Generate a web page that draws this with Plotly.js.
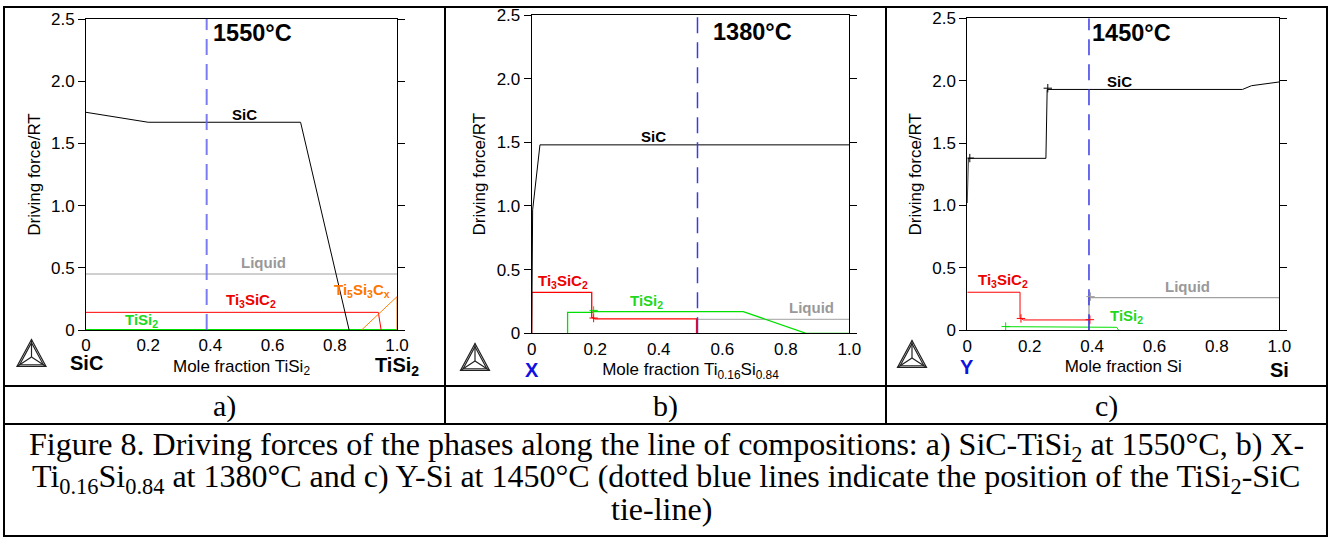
<!DOCTYPE html>
<html>
<head>
<meta charset="utf-8">
<script src="https://cdn.plot.ly/plotly-3.0.1.min.js"></script>
<style>
  html, body { margin: 0; padding: 0; background: #fff; }
  #fig { width: 1334px; height: 537px; }
</style>
</head>
<body>
<div id="fig"></div>
<script>
// ---- axis ticks ----
const xTicks = [0, 0.2, 0.4, 0.6, 0.8, 1.0];
const xTickText = ['0', '0.2', '0.4', '0.6', '0.8', '1.0'];
const yTicks = [0, 0.5, 1.0, 1.5, 2.0, 2.5];
const yTickText = ['0', '0.5', '1.0', '1.5', '2.0', '2.5'];

// ---- a) SiC-TiSi2 at 1550 C ----
const aSicX = [0, 0.2, 0.69, 0.846];
const aSicY = [1.75, 1.67, 1.67, 0];
const aLiqX = [0, 1.0];
const aLiqY = [0.45, 0.45];
const aTi3X = [0, 0.94, 0.949];
const aTi3Y = [0.142, 0.142, 0];
const aTiSi2X = [0, 1.0];
const aTiSi2Y = [0, 0];
const aTi5X = [0.886, 1.0, 1.0];
const aTi5Y = [0, 0.268, 0];
const aTieX = [0.388, 0.388];

// ---- b) X-Ti0.16Si0.84 at 1380 C ----
const bSicX = [0, 0.003, 0.026, 1.0];
const bSicY = [0, 0.97, 1.48, 1.48];
const bTi3X = [0, 0, 0.189, 0.189, 0.2, 0.519, 0.519];
const bTi3Y = [0, 0.322, 0.322, 0.125, 0.113, 0.113, 0];
const bTiSi2X = [0.113, 0.113, 0.19, 0.195, 0.666, 0.864, 1.0];
const bTiSi2Y = [0, 0.165, 0.165, 0.17, 0.17, 0, 0];
const bLiqX = [0.519, 1.0];
const bLiqY = [0.11, 0.11];
const bTieX = [0.522, 0.522];
const bMarkX = [0.195, 0.195];
const bMarkY = [0.12, 0.18];

// ---- c) Y-Si at 1450 C ----
const cSicX = [0, 0.003, 0.252, 0.256, 0.882, 0.911, 1.0];
const cSicY = [1.02, 1.378, 1.378, 1.93, 1.93, 1.96, 1.99];
const cTi3X = [0, 0.169, 0.169, 0.18, 0.39];
const cTi3Y = [0.305, 0.305, 0.1, 0.083, 0.083];
const cTiSi2X = [0.123, 0.479, 0.485];
const cTiSi2Y = [0.029, 0.024, 0];
const cLiqX = [0.39, 0.39, 0.395, 1.0];
const cLiqY = [0, 0.27, 0.262, 0.262];
const cTieX = [0.39, 0.39];
const cSicMarkX = [0.008, 0.258];
const cSicMarkY = [1.38, 1.94];
const cTi3MarkX = [0.172, 0.393];
const cTi3MarkY = [0.095, 0.085];
const cTiSi2MarkX = [0.123];
const cTiSi2MarkY = [0.03];
const cLiqMarkX = [0.395];
const cLiqMarkY = [0.27];

const tieY = [0, 2.5];

// phase labels: [text, x, y, colour]
const aLabels = [
  ['SiC', 0.51, 1.73, '#000000'],
  ['Liquid', 0.57, 0.54, '#999999'],
  ['Ti<sub>3</sub>SiC<sub>2</sub>', 0.53, 0.24, '#ee0000'],
  ['TiSi<sub>2</sub>', 0.18, 0.08, '#1ed81e'],
  ['Ti<sub>5</sub>Si<sub>3</sub>C<sub>x</sub>', 0.886, 0.32, '#ff7700']
];
const bLabels = [
  ['SiC', 0.383, 1.545, '#000000'],
  ['Ti<sub>3</sub>SiC<sub>2</sub>', 0.10, 0.41, '#ee0000'],
  ['TiSi<sub>2</sub>', 0.362, 0.25, '#1ed81e'],
  ['Liquid', 0.88, 0.2, '#999999']
];
const cLabels = [
  ['SiC', 0.487, 1.99, '#000000'],
  ['Ti<sub>3</sub>SiC<sub>2</sub>', 0.115, 0.40, '#ee0000'],
  ['Liquid', 0.706, 0.35, '#999999'],
  ['TiSi<sub>2</sub>', 0.51, 0.11, '#1ed81e']
];

const temps = ['1550°C', '1380°C', '1450°C'];
const xTitles = ['Mole fraction TiSi<sub>2</sub>', 'Mole fraction Ti<sub>0.16</sub>Si<sub>0.84</sub>', 'Mole fraction Si'];
const endLeft = ['SiC', 'X', 'Y'];
const endRight = ['TiSi<sub>2</sub>', '', 'Si'];
const rowLabels = ['a)', 'b)', 'c)'];
const captionLines = [
  'Figure 8. Driving forces of the phases along the line of compositions: a) SiC-TiSi<sub>2</sub> at 1550°C, b) X-',
  'Ti<sub>0.16</sub>Si<sub>0.84</sub> at 1380°C and c) Y-Si at 1450°C (dotted blue lines indicate the position of the TiSi<sub>2</sub>-SiC',
  'tie-line)'
];

// ---- page geometry (pixels) ----
const W = 1334, H = 537;
const px = v => v / W;
const py = v => 1 - v / H;
const FONT = 'Liberation Sans, Arial, sans-serif';
const SERIF = 'Liberation Serif, Times New Roman, serif';
const TICK = 17, TITLE = 17;

const panels = [
  { x0: 86, x1: 397, y0: 19, y1: 330, tempX: 252, tempY: 33, endY: 363, logo: [31.5, 353] },
  { x0: 531.7, x1: 849.3, y0: 15, y1: 333.3, tempX: 752, tempY: 32, endY: 370, logo: [475, 357] },
  { x0: 967.3, x1: 1279.3, y0: 18.3, y1: 330.3, tempX: 1131, tempY: 33, endY: 367, logo: [912, 354] }
];
const cellCentres = [224.5, 665.5, 1106.5];

function ax(i) { return i === 0 ? '' : String(i + 1); }

function line(xs, ys, color, i, width, dash) {
  return {
    type: 'scatter', mode: 'lines', x: xs, y: ys,
    xaxis: 'x' + ax(i), yaxis: 'y' + ax(i),
    line: { color: color, width: width || 1, dash: dash || 'solid' },
    hoverinfo: 'skip', showlegend: false
  };
}
function marks(xs, ys, color, i) {
  return {
    type: 'scatter', mode: 'markers', x: xs, y: ys,
    xaxis: 'x' + ax(i), yaxis: 'y' + ax(i),
    marker: { symbol: 'cross-thin', size: 6, line: { color: color, width: 1 } },
    hoverinfo: 'skip', showlegend: false
  };
}

const RED = '#ff0000', GREEN = '#00e000', GRAY = '#a0a0a0', ORANGE = '#ff7f00';
const traces = [
  // a
  line(aTiSi2X, aTiSi2Y, GREEN, 0, 2),
  line(aLiqX, aLiqY, GRAY, 0),
  line(aTi3X, aTi3Y, RED, 0),
  line(aTi5X, aTi5Y, ORANGE, 0),
  line(aSicX, aSicY, '#000000', 0),
  line(aTieX, tieY, 'rgba(100,100,240,0.85)', 0, 2, '16px,9px'),
  // b
  line(bLiqX, bLiqY, GRAY, 1),
  line(bTiSi2X, bTiSi2Y, GREEN, 1, 1.3),
  line(bTi3X, bTi3Y, RED, 1, 1.3),
  line(bSicX, bSicY, '#000000', 1),
  line(bTieX, tieY, '#3a3ae6', 1, 1.5, '16px,9px'),
  marks(bMarkX.slice(0, 1), bMarkY.slice(0, 1), RED, 1),
  marks(bMarkX.slice(1), bMarkY.slice(1), GREEN, 1),
  // c
  line(cLiqX, cLiqY, GRAY, 2, 1.3),
  line(cTiSi2X, cTiSi2Y, GREEN, 2),
  line(cTi3X, cTi3Y, RED, 2),
  line(cSicX, cSicY, '#000000', 2),
  line(cTieX, tieY, '#3a3ae6', 2, 1.5, '16px,9px'),
  marks(cSicMarkX, cSicMarkY, '#000000', 2),
  marks(cTi3MarkX, cTi3MarkY, RED, 2),
  marks(cTiSi2MarkX, cTiSi2MarkY, GREEN, 2),
  marks(cLiqMarkX, cLiqMarkY, GRAY, 2)
];

const layout = {
  width: W, height: H,
  margin: { l: 0, r: 0, t: 0, b: 0 },
  paper_bgcolor: '#ffffff', plot_bgcolor: '#ffffff',
  showlegend: false,
  font: { family: FONT, color: '#000' },
  annotations: [],
  shapes: []
};

panels.forEach((p, i) => {
  const s = ax(i);
  layout['xaxis' + s] = {
    domain: [px(p.x0), px(p.x1)], anchor: 'y' + s, range: [0, 1],
    tickvals: xTicks, ticktext: xTickText, ticks: '',
    showline: true, mirror: true, linecolor: '#000', linewidth: 1,
    showgrid: false, zeroline: false, fixedrange: true,
    tickfont: { family: FONT, size: TICK, color: '#000' },
    ticklabelstandoff: 0,
    title: { text: xTitles[i], font: { family: FONT, size: TITLE, color: '#000' }, standoff: 5 }
  };
  layout['yaxis' + s] = {
    domain: [py(p.y1), py(p.y0)], anchor: 'x' + s, range: [0, 2.5],
    tickvals: yTicks, ticktext: yTickText,
    ticks: 'outside', ticklen: 7, tickcolor: '#000', mirror: 'allticks',
    showline: true, linecolor: '#000', linewidth: 1,
    showgrid: false, zeroline: false, fixedrange: true,
    tickfont: { family: FONT, size: TICK, color: '#000' },
    title: { text: 'Driving force/RT', font: { family: FONT, size: TITLE, color: '#000' }, standoff: 6 }
  };
  // top ticks only (no ticks under the bottom axis)
  layout['xaxis' + (i + 4)] = {
    overlaying: 'x' + s, anchor: 'y' + s, side: 'top', range: [0, 1],
    tickvals: xTicks, ticks: 'outside', ticklen: 7, tickcolor: '#000',
    showticklabels: false, showline: false, showgrid: false, zeroline: false, fixedrange: true
  };

  // temperature
  layout.annotations.push({
    xref: 'paper', yref: 'paper', x: px(p.tempX), y: py(p.tempY),
    xanchor: 'center', yanchor: 'middle', showarrow: false,
    text: '<b>' + temps[i] + '</b>', font: { family: FONT, size: 23.5, color: '#000' }
  });
  // composition end labels
  layout.annotations.push({
    xref: 'x' + s, yref: 'paper', x: 0, y: py(p.endY),
    xanchor: 'center', yanchor: 'middle', showarrow: false,
    text: '<b>' + endLeft[i] + '</b>',
    font: { family: FONT, size: 20, color: i === 0 ? '#000' : '#1010e0' }
  });
  if (endRight[i]) {
    layout.annotations.push({
      xref: 'x' + s, yref: 'paper', x: 1, y: py(p.endY + 3),
      xanchor: 'center', yanchor: 'middle', showarrow: false,
      text: '<b>' + endRight[i] + '</b>', font: { family: FONT, size: 20, color: '#000' }
    });
  }
  // Thermo-Calc style logo
  const [cx, cy] = p.logo;
  const tri = k => {
    const gy = cy + 4;
    const pts = [[cx, cy - 13.5], [cx - 14.5, cy + 13.5], [cx + 14.5, cy + 13.5]]
      .map(([x, y]) => [cx + (x - cx) * k, gy + (y - gy) * k]);
    return 'M' + pts.map(q => px(q[0]) + ',' + py(q[1])).join(' L') + ' Z';
  };
  [1, 0.82].forEach(k => layout.shapes.push({
    type: 'path', xref: 'paper', yref: 'paper', path: tri(k),
    line: { color: '#222', width: 1.2 }
  }));
  [[cx, cy - 13.5], [cx - 14.5, cy + 13.5], [cx + 14.5, cy + 13.5]].forEach(v => layout.shapes.push({
    type: 'line', xref: 'paper', yref: 'paper',
    x0: px(cx), y0: py(cy + 4), x1: px(v[0]), y1: py(v[1]),
    line: { color: '#222', width: 1.2 }
  }));

  // phase labels
  [aLabels, bLabels, cLabels][i].forEach(([t, x, y, c]) => layout.annotations.push({
    xref: 'x' + s, yref: 'y' + s, x: x, y: y, xanchor: 'center', yanchor: 'middle',
    showarrow: false, text: '<b>' + t + '</b>', font: { family: FONT, size: 15, color: c }
  }));

  // row label a) b) c)
  layout.annotations.push({
    xref: 'paper', yref: 'paper', x: px(cellCentres[i]), y: py(406),
    xanchor: 'center', yanchor: 'middle', showarrow: false,
    text: rowLabels[i], font: { family: SERIF, size: 30, color: '#000' }
  });
});

// caption (justified lines in the original, so centred on the measured text extent)
[[446, 666], [478, 666], [509, 661]].forEach(([yc, xc], k) => layout.annotations.push({
  xref: 'paper', yref: 'paper', x: px(xc), y: py(yc),
  xanchor: 'center', yanchor: 'middle', showarrow: false,
  text: captionLines[k], font: { family: SERIF, size: 32, color: '#000' }
}));

// table borders
const border = { color: '#000', width: 2 };
layout.shapes.push(
  { type: 'rect', xref: 'paper', yref: 'paper', x0: px(4), x1: px(1327), y0: py(7), y1: py(536), line: border },
  { type: 'line', xref: 'paper', yref: 'paper', x0: px(4), x1: px(1327), y0: py(386), y1: py(386), line: border },
  { type: 'line', xref: 'paper', yref: 'paper', x0: px(4), x1: px(1327), y0: py(424), y1: py(424), line: border },
  { type: 'line', xref: 'paper', yref: 'paper', x0: px(445), x1: px(445), y0: py(7), y1: py(424), line: border },
  { type: 'line', xref: 'paper', yref: 'paper', x0: px(886), x1: px(886), y0: py(7), y1: py(424), line: border }
);

Plotly.newPlot('fig', traces, layout, { displayModeBar: false, staticPlot: true });
</script>
</body>
</html>
